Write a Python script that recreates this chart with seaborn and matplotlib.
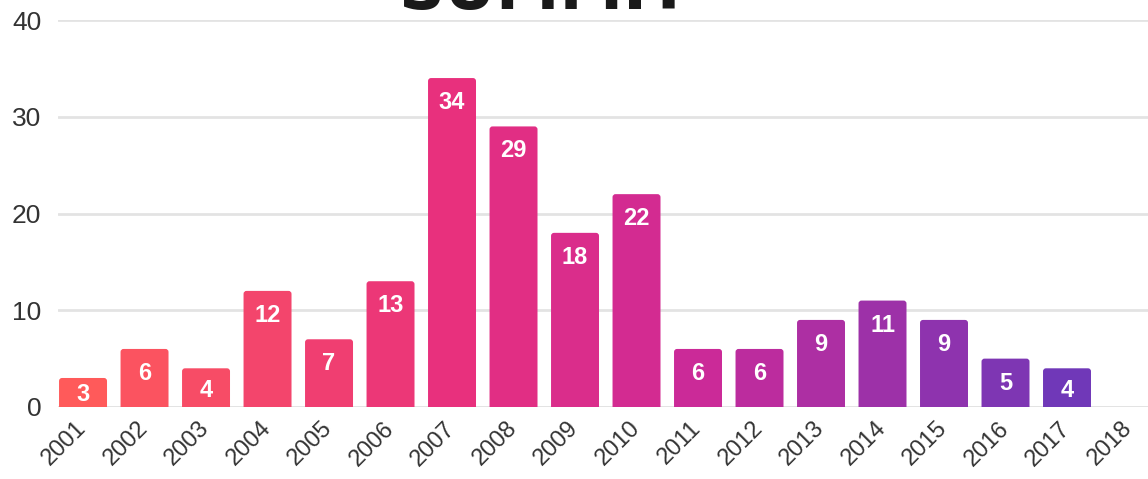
import numpy as np
import pandas as pd
import matplotlib
matplotlib.use("Agg")
import matplotlib.pyplot as plt
from matplotlib.colors import LinearSegmentedColormap, to_hex
from matplotlib.patches import FancyBboxPatch
import seaborn as sns

# data
years = ['2001', '2002', '2003', '2004', '2005', '2006', '2007', '2008', '2009',
         '2010', '2011', '2012', '2013', '2014', '2015', '2016', '2017', '2018']
counts = [3, 6, 4, 12, 7, 13, 34, 29, 18, 22, 6, 6, 9, 11, 9, 5, 4, np.nan]
y_ticks = [0, 10, 20, 30, 40]
title = 'SUMMIT'

df = pd.DataFrame({'Year': years, 'Count': counts})

sns.set_theme(style="white")
plt.rcParams['font.family'] = ['Liberation Sans', 'DejaVu Sans']

# red -> pink -> magenta -> purple gradient across the bars
grad = LinearSegmentedColormap.from_list(
    'summit', [(0, '#ff5a5a'), (0.375, '#e8307d'), (0.625, '#cc2a98'), (1, '#7038b8')])
n_bars = 17
palette = [to_hex(grad(i / (n_bars - 1))) for i in range(n_bars)] + ['#7038b8']

fig = plt.figure(figsize=(11.48, 4.79), dpi=100)
ax = fig.add_axes([58 / 1148, 72 / 479, 1 - 58 / 1148, 387 / 479])

sns.barplot(data=df, x='Year', y='Count', hue='Year', palette=palette,
            order=years, legend=False, width=0.78, saturation=1, ax=ax)

ax.set_ylim(0, 40)
ax.set_xlim(-0.407, 17.317)

# swap the square bars for ones with slightly rounded tops
px_x = 61.5   # pixels per category
px_y = 9.675  # pixels per unit on y
r = 3 / px_x
for p in list(ax.patches):
    h = p.get_height()
    if np.isnan(h) or h == 0:
        p.remove()
        continue
    fb = FancyBboxPatch((p.get_x(), -0.5), p.get_width(), h + 0.5,
                        boxstyle=f"round,pad=0,rounding_size={r}",
                        mutation_aspect=px_x / px_y,
                        facecolor=p.get_facecolor(), edgecolor='none')
    p.remove()
    ax.add_patch(fb)

# value labels inside the top of each bar
for i, v in enumerate(counts):
    if np.isnan(v):
        continue
    off_px = min(22, v * px_y / 2)
    ax.annotate(f'{int(v)}', (i, v), xytext=(0, -off_px * 0.72), textcoords='offset points',
                ha='center', va='center_baseline', color='white', fontsize=17,
                fontweight='bold')

ax.set_yticks(y_ticks)
ax.yaxis.grid(True, color='#e3e3e3', linewidth=2)
ax.set_axisbelow(True)
ax.set_xlabel('')
ax.set_ylabel('')
sns.despine(ax=ax, left=True, bottom=True, top=True, right=True)
ax.axhline(0, color='#e0e0e0', linewidth=2, zorder=0)

ax.tick_params(axis='y', length=0, pad=12, labelsize=19, labelcolor='#333333')
ax.tick_params(axis='x', length=0, pad=13, labelsize=17, labelcolor='#333333')
for lbl in ax.get_xticklabels():
    lbl.set_rotation(45)
    lbl.set_ha('right')
    lbl.set_va('center')
    lbl.set_rotation_mode('anchor')

# title, mostly cut off by the top edge
fig.text(545 / 1148, 470 / 479, title, ha='center', va='baseline',
         fontsize=46, fontweight='heavy', color='#1a1a1a',
         family=['DejaVu Sans'])

fig.savefig('out.png', dpi=100)
